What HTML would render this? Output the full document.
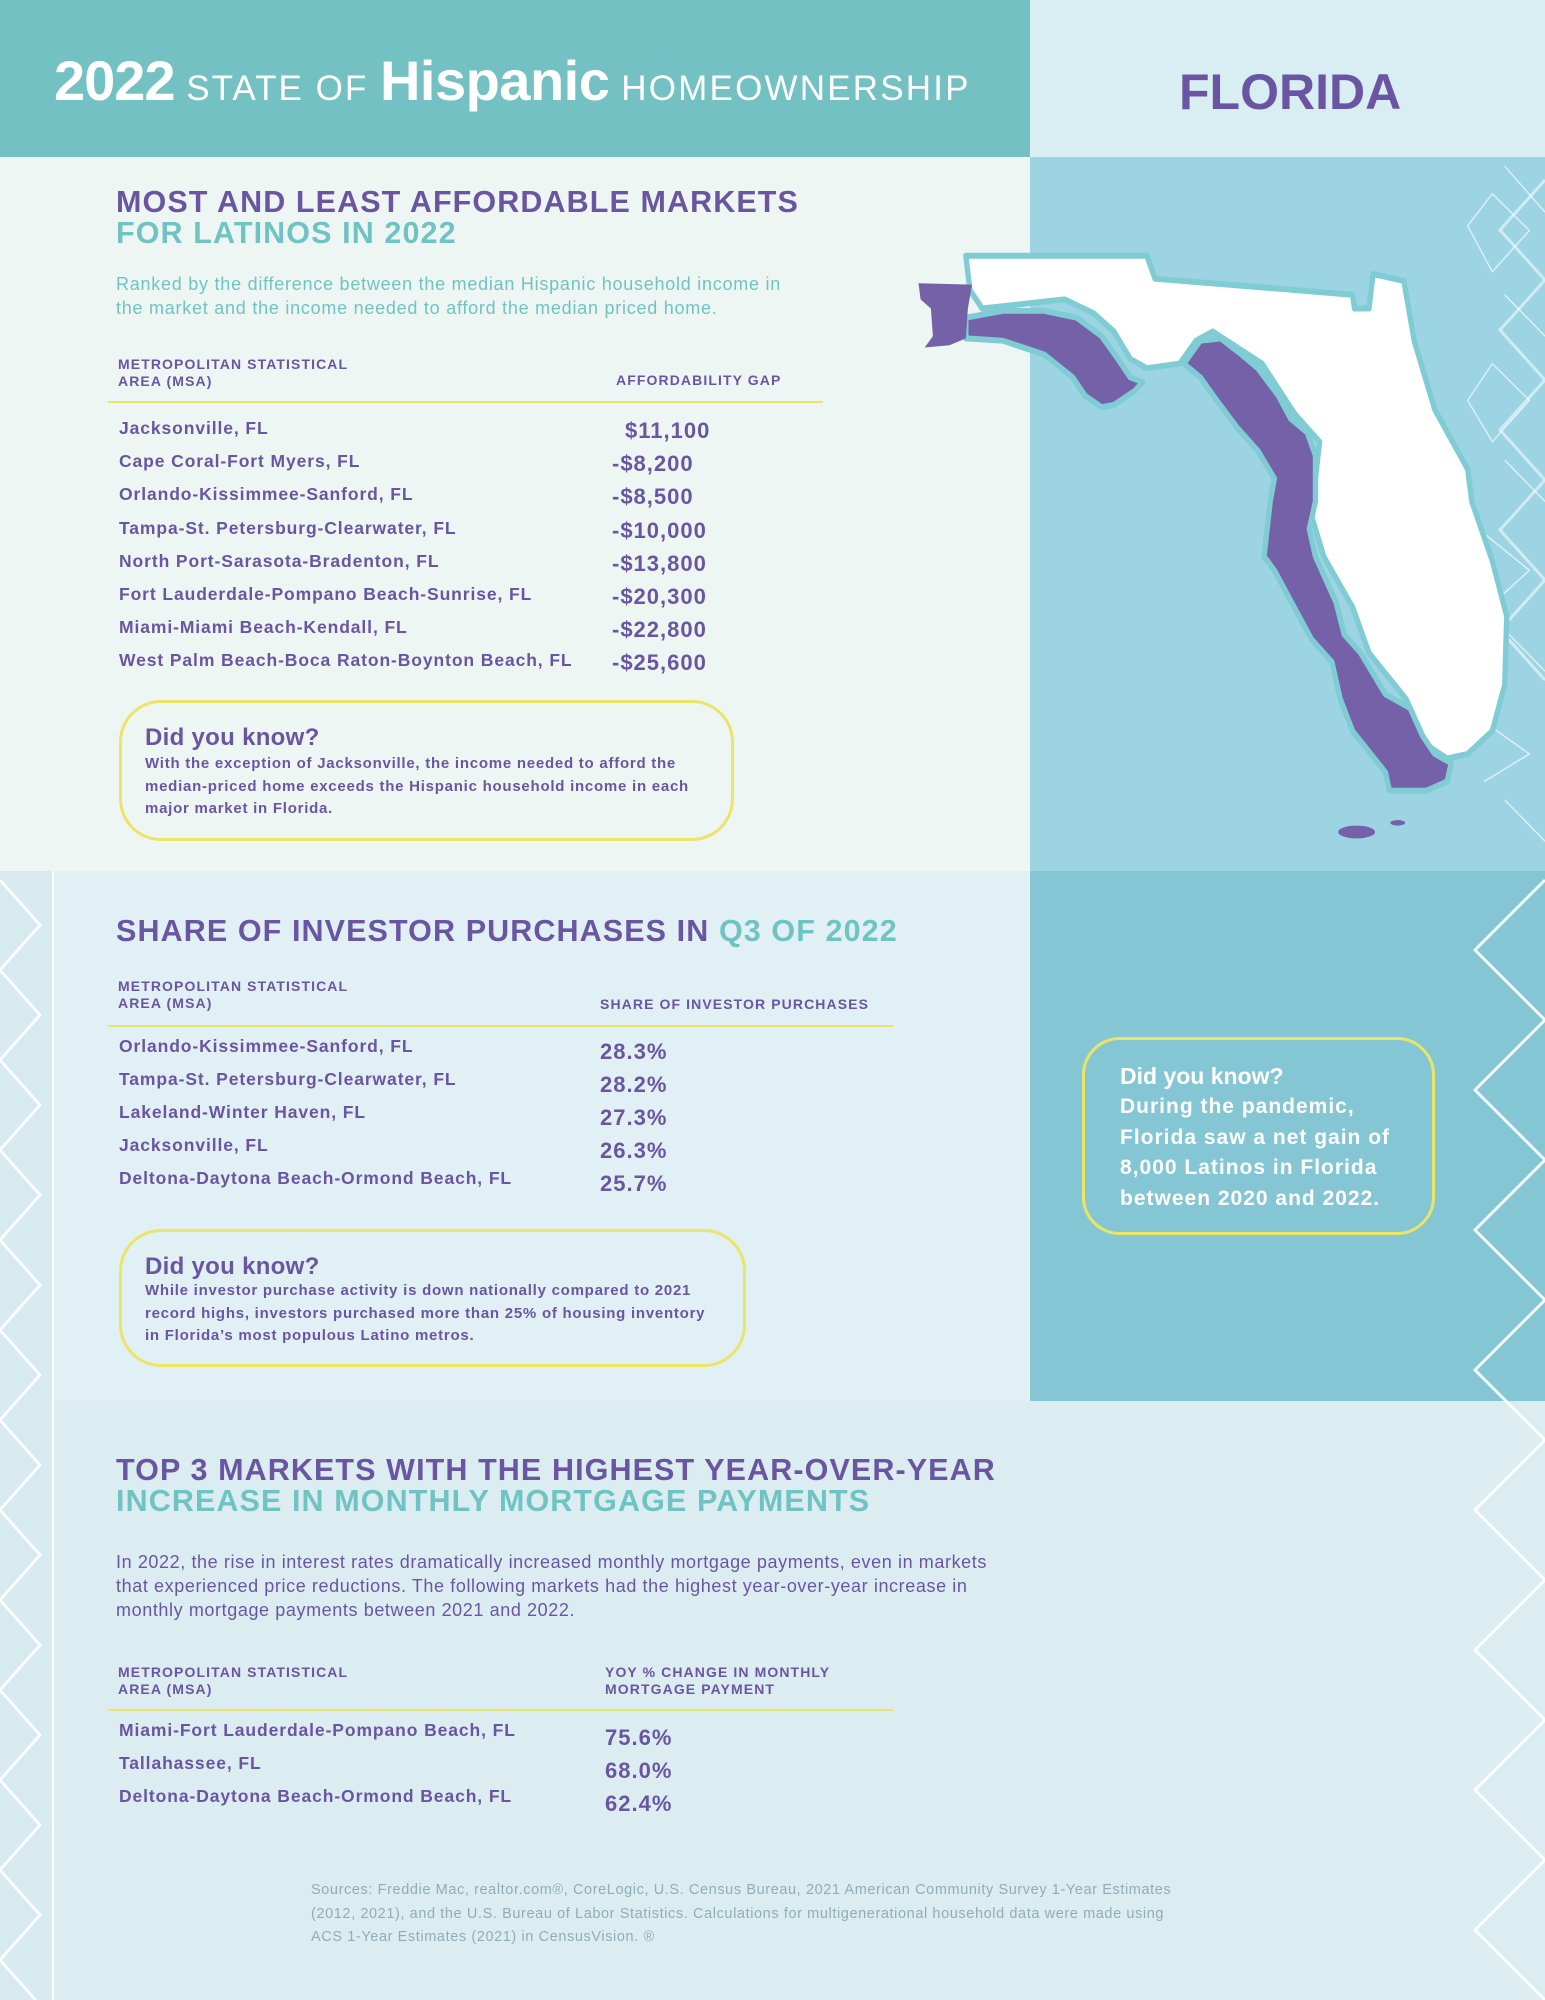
<!DOCTYPE html>
<html><head><meta charset="utf-8"><style>
*{margin:0;padding:0;box-sizing:border-box}
body{width:1545px;height:2000px;position:relative;overflow:hidden;font-family:"Liberation Sans",sans-serif;background:#dcedf2}
.a{position:absolute;white-space:nowrap}
.p{color:#6a55a2}.t{color:#6fc3c3}
.h{font-weight:bold;font-size:30.5px;line-height:30px;letter-spacing:1.1px}
.lab{font-size:14px;font-weight:bold;line-height:17px;color:#6a55a2;letter-spacing:1.1px}
.row{font-size:17.5px;font-weight:bold;color:#6a55a2;line-height:20px;letter-spacing:0.9px}
.val{font-size:22px;font-weight:bold;color:#6a55a2;line-height:22px;letter-spacing:1px}
.box{position:absolute;border:3.5px solid #ebe566;border-radius:42px}
.yl{position:absolute;height:2px;background:#ece46a}
.dyk{font-size:24px;font-weight:900;letter-spacing:0.3px}
.bt{font-size:15px;font-weight:bold;line-height:22.5px;letter-spacing:0.75px}
</style></head><body>
<div class="a" style="left:0;top:0;width:1030px;height:157px;background:#73c1c3"></div>
<div class="a" style="left:1030px;top:0;width:515px;height:157px;background:#d8eef2"></div>
<div class="a" style="left:0;top:157px;width:1030px;height:714px;background:#eef6f3"></div>
<div class="a" style="left:1030px;top:157px;width:515px;height:714px;background:#9dd4e4"></div>
<div class="a" style="left:0;top:871px;width:1030px;height:530px;background:#e1f0f4"></div>
<div class="a" style="left:1030px;top:871px;width:515px;height:530px;background:#85c6d4"></div>
<div class="a" style="left:0;top:871px;width:54px;height:1129px;background:#d6eaf0;border-right:2px solid #fff"></div>

<svg class="a" style="left:0;top:0" width="1545" height="2000">
<g fill="none" stroke="#fff" stroke-width="3" opacity="0.9">
<polyline points="0,880 40,925 0,970 40,1015 0,1060 40,1105 0,1150 40,1195 0,1240 40,1285 0,1330 40,1375 0,1420 40,1465 0,1510 40,1555 0,1600 40,1645 0,1690 40,1735 0,1780 40,1825 0,1870 40,1915 0,1960 40,2005"/>
<polyline points="1545,180 1500,230 1545,280 1500,330 1545,380 1500,430 1545,480 1500,530 1545,580 1500,630 1545,680" opacity="0.6"/>
<polyline points="1545,880 1475,950 1545,1020 1475,1090 1545,1160 1475,1230 1545,1300 1475,1370 1545,1440 1475,1510 1545,1580 1475,1650 1545,1720 1475,1790 1545,1860 1475,1930 1545,2000"/>
</g></svg>

<svg class="a" style="left:900px;top:157px" width="645" height="720" viewBox="0 0 1568 1568" preserveAspectRatio="none">
<g fill="none" stroke="#fff" stroke-width="3" opacity="0.7">
<path d="M1470,20 L1568,120 M1380,150 L1440,80 L1530,160 L1440,250 Z M1470,300 L1568,390 M1380,530 L1440,450 L1530,530 L1440,620 Z M1470,660 L1568,750 M1420,820 L1530,900 L1420,990 M1470,1030 L1568,1120 M1420,1230 L1530,1300 L1420,1360 M1470,1400 L1568,1490"/>
</g>
<g stroke="#7fccd4" stroke-width="13" stroke-linejoin="round">
<path fill="#fff" d="M160,215 L600,215 L620,265 L1100,300 L1105,330 L1140,330 L1150,255 L1225,270 L1250,400 L1300,550 L1380,680 L1390,750 L1440,880 L1475,1000 L1470,1150 L1440,1250 L1380,1300 L1330,1310 L1280,1280 L1230,1180 L1140,1080 L1100,980 L1030,870 L1000,780 L1020,620 L960,560 L880,450 L760,380 L720,400 L680,450 L600,460 L560,440 L520,380 L470,340 L400,310 L300,320 L200,330 L170,290 Z"/>
<path fill="#7561a7" d="M690,450 L730,400 L780,395 L830,430 L870,460 L920,520 L950,570 L990,600 L1010,650 L1010,750 L995,810 L1010,870 L1060,970 L1080,1040 L1120,1080 L1180,1170 L1240,1200 L1270,1260 L1300,1300 L1340,1320 L1330,1360 L1280,1380 L1190,1380 L1180,1340 L1100,1250 L1070,1180 L1050,1100 L1000,1050 L940,950 L910,900 L885,870 L900,750 L910,700 L870,640 L820,590 L770,530 L730,480 Z"/>
<path fill="#7561a7" d="M160,350 L250,335 L350,335 L430,350 L490,390 L530,440 L560,480 L590,490 L570,510 L520,540 L490,545 L450,520 L420,480 L350,430 L250,400 L160,395 Z"/>
</g>
<path fill="#7561a7" d="M45,275 L175,278 L165,330 L160,395 L120,410 L60,415 L80,390 L75,330 L50,310 Z"/>
<ellipse cx="1110" cy="1470" rx="45" ry="14" fill="#7561a7"/>
<ellipse cx="1210" cy="1450" rx="18" ry="6" fill="#7561a7"/>
</svg>

<div class="a" style="left:54px;top:48px;color:#fff;font-weight:bold">
<span style="font-size:56px;letter-spacing:-1px">2022</span><span style="font-size:35px;font-weight:normal;letter-spacing:2px"> STATE OF </span><span style="font-size:56px;letter-spacing:-0.5px">Hispanic</span><span style="font-size:35px;font-weight:normal;letter-spacing:2.2px"> HOMEOWNERSHIP</span></div>
<div class="a p" style="left:1179px;top:67px;font-size:50px;line-height:50px;font-weight:bold;letter-spacing:0px">FLORIDA</div>

<div class="a h p" style="left:116px;top:187px">MOST AND LEAST AFFORDABLE MARKETS</div>
<div class="a h t" style="left:116px;top:218px">FOR LATINOS IN 2022</div>
<div class="a t" style="left:116px;top:272px;font-size:18px;line-height:24px;letter-spacing:0.75px">Ranked by the difference between the median Hispanic household income in<br>the market and the income needed to afford the median priced home.</div>
<div class="a lab" style="left:118px;top:356px">METROPOLITAN STATISTICAL<br>AREA (MSA)</div>
<div class="a lab" style="left:616px;top:372px">AFFORDABILITY GAP</div>
<div class="yl" style="left:108px;top:401px;width:715px"></div>
<div class="a row" style="left:119px;top:412px;line-height:33.2px">Jacksonville, FL<br>Cape Coral-Fort Myers, FL<br>Orlando-Kissimmee-Sanford, FL<br>Tampa-St. Petersburg-Clearwater, FL<br>North Port-Sarasota-Bradenton, FL<br>Fort Lauderdale-Pompano Beach-Sunrise, FL<br>Miami-Miami Beach-Kendall, FL<br>West Palm Beach-Boca Raton-Boynton Beach, FL</div>
<div class="a val" style="left:612px;top:414px;line-height:33.2px"><span style="margin-left:13px">$11,100</span><br>-$8,200<br>-$8,500<br>-$10,000<br>-$13,800<br>-$20,300<br>-$22,800<br>-$25,600</div>

<div class="box" style="left:119px;top:700px;width:615px;height:141px"></div>
<div class="a p dyk" style="left:145px;top:724px">Did you know?</div>
<div class="a p bt" style="left:145px;top:753px">With the exception of Jacksonville, the income needed to afford the<br>median-priced home exceeds the Hispanic household income in each<br>major market in Florida.</div>

<div class="a h p" style="left:116px;top:916px">SHARE OF INVESTOR PURCHASES IN <span class="t">Q3 OF 2022</span></div>
<div class="a lab" style="left:118px;top:978px">METROPOLITAN STATISTICAL<br>AREA (MSA)</div>
<div class="a lab" style="left:600px;top:996px">SHARE OF INVESTOR PURCHASES</div>
<div class="yl" style="left:108px;top:1025px;width:785px"></div>
<div class="a row" style="left:119px;top:1030px;line-height:33px">Orlando-Kissimmee-Sanford, FL<br>Tampa-St. Petersburg-Clearwater, FL<br>Lakeland-Winter Haven, FL<br>Jacksonville, FL<br>Deltona-Daytona Beach-Ormond Beach, FL</div>
<div class="a val" style="left:600px;top:1035px;line-height:33px">28.3%<br>28.2%<br>27.3%<br>26.3%<br>25.7%</div>

<div class="box" style="left:119px;top:1229px;width:627px;height:138px"></div>
<div class="a p dyk" style="left:145px;top:1253px">Did you know?</div>
<div class="a p bt" style="left:145px;top:1280px">While investor purchase activity is down nationally compared to 2021<br>record highs, investors purchased more than 25% of housing inventory<br>in Florida’s most populous Latino metros.</div>

<div class="box" style="left:1082px;top:1037px;width:353px;height:198px;border-radius:38px"></div>
<div class="a" style="left:1120px;top:1063px;font-size:23px;font-weight:900;color:#fff">Did you know?</div>
<div class="a" style="left:1120px;top:1092px;font-size:21px;font-weight:bold;color:#fff;line-height:30.5px;letter-spacing:1px">During the pandemic,<br>Florida saw a net gain of<br>8,000 Latinos in Florida<br>between 2020 and 2022.</div>

<div class="a h p" style="left:116px;top:1455px">TOP 3 MARKETS WITH THE HIGHEST YEAR-OVER-YEAR</div>
<div class="a h t" style="left:116px;top:1486px">INCREASE IN MONTHLY MORTGAGE PAYMENTS</div>
<div class="a p" style="left:116px;top:1550px;font-size:18px;line-height:24px;letter-spacing:0.6px">In 2022, the rise in interest rates dramatically increased monthly mortgage payments, even in markets<br>that experienced price reductions. The following markets had the highest year-over-year increase in<br>monthly mortgage payments between 2021 and 2022.</div>
<div class="a lab" style="left:118px;top:1664px">METROPOLITAN STATISTICAL<br>AREA (MSA)</div>
<div class="a lab" style="left:605px;top:1664px">YOY % CHANGE IN MONTHLY<br>MORTGAGE PAYMENT</div>
<div class="yl" style="left:108px;top:1709px;width:785px"></div>
<div class="a row" style="left:119px;top:1714px;line-height:33px">Miami-Fort Lauderdale-Pompano Beach, FL<br>Tallahassee, FL<br>Deltona-Daytona Beach-Ormond Beach, FL</div>
<div class="a val" style="left:605px;top:1721px;line-height:33px">75.6%<br>68.0%<br>62.4%</div>

<div class="a" style="left:311px;top:1879px;font-size:14.5px;line-height:23.5px;color:#8fadb8;letter-spacing:0.6px">Sources: Freddie Mac, realtor.com®, CoreLogic, U.S. Census Bureau, 2021 American Community Survey 1-Year Estimates<br>(2012, 2021), and the U.S. Bureau of Labor Statistics. Calculations for multigenerational household data were made using<br>ACS 1-Year Estimates (2021) in CensusVision. ®</div>
</body></html>
